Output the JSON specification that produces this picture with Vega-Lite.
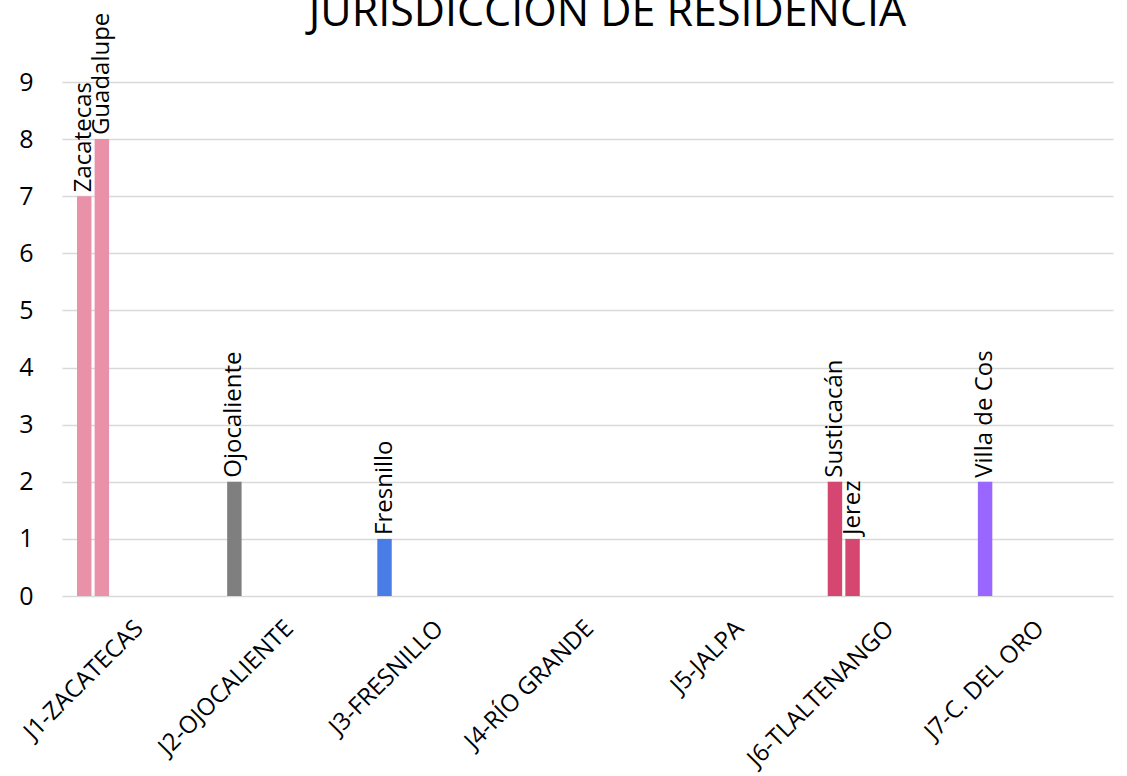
{
  "$schema": "https://vega.github.io/schema/vega-lite/v6.json",
  "width": 1051,
  "height": 514,
  "autosize": {"type": "none"},
  "padding": {"left": 62, "top": 82, "right": 14, "bottom": 180},
  "background": "white",
  "title": {"text": "JURISDICCIÓN DE RESIDENCIA", "fontSize": 43, "font": "Open Sans", "fontWeight": "normal", "color": "#000000", "frame": "group", "anchor": "middle", "dx": 20, "dy": 36, "offset": 14},
  "config": {"view": {"stroke": null}, "font": "Open Sans"},
  "data": {
    "values": [
      {"jur": "J1-ZACATECAS", "mun": "Zacatecas", "slot": 1, "n": 7},
      {"jur": "J1-ZACATECAS", "mun": "Guadalupe", "slot": 2, "n": 8},
      {"jur": "J2-OJOCALIENTE", "mun": "Ojocaliente", "slot": 1, "n": 2},
      {"jur": "J3-FRESNILLO", "mun": "Fresnillo", "slot": 1, "n": 1},
      {"jur": "J6-TLALTENANGO", "mun": "Susticacán", "slot": 1, "n": 2},
      {"jur": "J6-TLALTENANGO", "mun": "Jerez", "slot": 2, "n": 1},
      {"jur": "J7-C. DEL ORO", "mun": "Villa de Cos", "slot": 1, "n": 2}
    ]
  },
  "encoding": {
    "x": {
      "field": "jur", "type": "nominal", "sort": null,
      "scale": {"domain": ["J1-ZACATECAS", "J2-OJOCALIENTE", "J3-FRESNILLO", "J4-RÍO GRANDE", "J5-JALPA", "J6-TLALTENANGO", "J7-C. DEL ORO"], "paddingInner": 0.2, "paddingOuter": 0.1},
      "axis": {"title": null, "labelAngle": -45, "labelFontSize": 24, "labelColor": "#000000", "ticks": false, "domain": false, "labelPadding": 20, "labelOffset": -6, "labelLimit": 400, "grid": false}
    },
    "xOffset": {"field": "slot", "type": "nominal", "scale": {"domain": [1, 2, 3, 4, 5, 6, 7], "paddingInner": 0.18, "paddingOuter": 0}},
    "y": {
      "field": "n", "type": "quantitative",
      "scale": {"domain": [0, 9], "nice": false},
      "axis": {"title": null, "values": [0, 1, 2, 3, 4, 5, 6, 7, 8, 9], "labelFontSize": 25, "labelPadding": 29, "ticks": false, "domain": false, "gridColor": "#D9D9D9", "gridWidth": 1.5, "labelColor": "#000000"}
    }
  },
  "layer": [
    {
      "mark": {"type": "bar"},
      "encoding": {
        "color": {"field": "jur", "type": "nominal", "legend": null,
          "scale": {"domain": ["J1-ZACATECAS", "J2-OJOCALIENTE", "J3-FRESNILLO", "J6-TLALTENANGO", "J7-C. DEL ORO"], "range": ["#E891A8", "#7F7F7F", "#4A7CE6", "#D54671", "#9966FF"]}}
      }
    },
    {
      "mark": {"type": "text", "angle": 270, "align": "left", "baseline": "middle", "dx": 4, "fontSize": 24, "color": "#000000"},
      "encoding": {"text": {"field": "mun"}}
    }
  ]
}
